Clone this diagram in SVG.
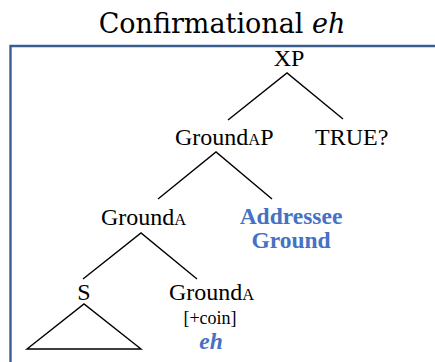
<svg xmlns="http://www.w3.org/2000/svg" width="435" height="362" viewBox="0 0 435 362">
  <style>
    .title { font-family: "DejaVu Serif", "Liberation Serif", serif; font-size: 27px; fill: #000; }
    .lbl { font-family: "Liberation Serif", "Times New Roman", serif; font-size: 24px; fill: #000; }
    .sc { font-size: 16.5px; }
    .feat { font-family: "Liberation Serif", "Times New Roman", serif; font-size: 18px; fill: #000; }
    .blue { font-family: "Liberation Serif", "Times New Roman", serif; font-size: 23.5px; font-weight: bold; fill: #4472C4; }
    .edge { stroke: #000; stroke-width: 1.4; fill: none; }
    .frame { stroke: #3A5F8F; stroke-width: 2.4; fill: none; }
  </style>

  <rect width="435" height="362" fill="#fff"/>

  <!-- heading -->
  <text class="title" x="222" y="33" text-anchor="middle">Confirmational <tspan font-style="italic">eh</tspan></text>

  <!-- panel border -->
  <path class="frame" d="M10.5,362 V46 H436"/>

  <!-- tree branches -->
  <g id="edges">
    <path class="edge" d="M228,120 L287,73 L343,119"/>
    <path class="edge" d="M158,199 L216,152 L272,199"/>
    <path class="edge" d="M83,279 L141,233 L197,279"/>
    <path class="edge" d="M27,349 L84,304 L141,349 Z"/>
  </g>

  <g id="xp">
    <text class="lbl" x="289" y="66" text-anchor="middle">XP</text>
  </g>
  <g id="groundAP">
    <text class="lbl" x="175" y="145">Ground<tspan class="sc">A</tspan>P</text>
  </g>
  <g id="true">
    <text class="lbl" x="315" y="145">TRUE?</text>
  </g>
  <g id="groundA-bar">
    <text class="lbl" x="101" y="225">Ground<tspan class="sc">A</tspan></text>
  </g>
  <g id="addressee-ground">
    <text class="blue" x="291" y="223.5" text-anchor="middle">Addressee</text>
    <text class="blue" x="291" y="248" text-anchor="middle">Ground</text>
  </g>
  <g id="s">
    <text class="lbl" x="84" y="300" text-anchor="middle">S</text>
  </g>
  <g id="groundA-head">
    <text class="lbl" x="169" y="300">Ground<tspan class="sc">A</tspan></text>
    <text class="feat" x="210" y="324" text-anchor="middle">[+coin]</text>
    <text class="blue" x="211" y="349" text-anchor="middle" font-style="italic">eh</text>
  </g>
</svg>
